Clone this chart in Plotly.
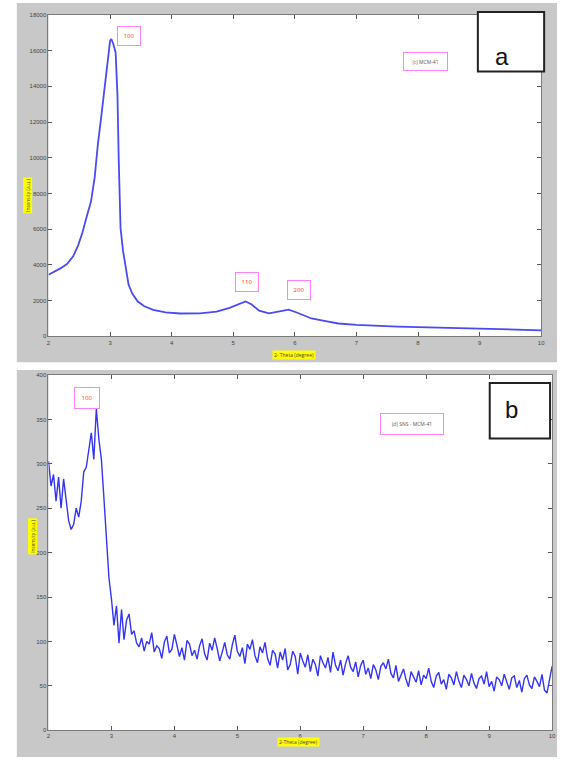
import plotly.graph_objects as go

# ---------------- data ----------------
# Panel a: MCM-41 (smooth XRD pattern)
xa = [2.00, 2.10, 2.20, 2.30, 2.40, 2.48, 2.55, 2.62, 2.69, 2.75, 2.80, 2.86, 2.90, 2.95,
      3.00, 3.02, 3.05, 3.09, 3.12, 3.14, 3.17, 3.21, 3.25, 3.30, 3.36, 3.45, 3.55,
      3.70, 3.90, 4.14, 4.46, 4.73, 4.94, 5.08, 5.20, 5.30, 5.42, 5.58, 5.75, 5.90,
      6.02, 6.15, 6.27, 6.50, 6.71, 7.00, 7.35, 7.67, 8.00, 8.50, 8.96, 9.50, 10.00]
ya = [3450, 3620, 3820, 4050, 4480, 5080, 5800, 6700, 7550, 8900, 10700, 12400, 13600, 15100,
      16550, 16650, 16400, 15900, 13500, 9950, 6050, 4800, 3830, 2900, 2400, 1950, 1700,
      1480, 1340, 1280, 1290, 1390, 1600, 1780, 1950, 1780, 1440, 1290, 1380, 1500,
      1350, 1150, 1000, 850, 720, 640, 570, 545, 520, 480, 440, 400, 340]

# Panel b: SNS - MCM-41 (noisy XRD pattern), 2-theta from 2 to 10 in 0.04 steps
xb = [round(2 + 0.04 * i, 2) for i in range(201)]
yb = [303, 275, 288, 258, 285, 250, 283, 262, 236, 226,
      232, 250, 240, 258, 291, 296, 318, 335, 305, 362,
      328, 305, 262, 212, 172, 148, 118, 140, 98, 136,
      102, 124, 131, 108, 112, 98, 94, 104, 89, 100,
      97, 110, 88, 95, 92, 81, 99, 106, 87, 91,
      108, 96, 83, 93, 79, 101, 97, 84, 90, 80,
      95, 103, 86, 79, 98, 90, 104, 92, 78, 88,
      99, 85, 80, 96, 107, 89, 83, 93, 75, 97,
      91, 102, 84, 76, 94, 87, 99, 81, 73, 90,
      86, 70, 88, 79, 92, 68, 74, 89, 83, 63,
      87, 78, 71, 85, 66, 80, 74, 61, 84, 76,
      70, 82, 65, 88, 73, 67, 79, 62, 75, 84,
      71, 66, 77, 60, 73, 79, 63, 70, 58, 74,
      68, 57, 72, 76, 69, 80, 64, 59, 73, 55,
      63, 69, 57, 49, 66, 60, 54, 67, 51, 62,
      58, 70, 55, 48, 61, 65, 52, 57, 46, 63,
      59, 51, 66, 55, 48, 62, 57, 50, 64, 53,
      47, 58, 61, 52, 66, 49, 55, 44, 60, 57,
      50, 63, 54, 46, 59, 61, 48, 56, 43, 58,
      62, 51, 47, 60, 55, 49, 63, 45, 42, 57,
      72]

xticks = [2, 3, 4, 5, 6, 7, 8, 9, 10]
ya_ticks = [0, 2000, 4000, 6000, 8000, 10000, 12000, 14000, 16000, 18000]
yb_ticks = [0, 50, 100, 150, 200, 250, 300, 350, 400]

peaks_a = [("100", 3.31, 16830), ("110", 5.23, 3030), ("200", 6.06, 2610)]
peaks_b = [("100", 2.61, 374)]

# ---------------- layout geometry ----------------
W, H = 561, 760
def px(x): return x / W
def py(y): return 1 - y / H

fig = go.Figure()
fig.add_trace(go.Scatter(x=xa, y=ya, xaxis="x", yaxis="y", mode="lines",
                         line=dict(color="#4a4af2", width=1.8), showlegend=False))
fig.add_trace(go.Scatter(x=xb, y=yb, xaxis="x2", yaxis="y2", mode="lines",
                         line=dict(color="#3434f4", width=1.4), showlegend=False))

axis_common = dict(showline=True, linecolor="#7a7a7a", linewidth=1, mirror="ticks",
                   ticks="inside", ticklen=4, tickcolor="#555", showgrid=False,
                   zeroline=False, tickformat="d",
                   tickfont=dict(size=6, color="#444", family="Liberation Sans"))

fig.update_layout(
    width=W, height=H, margin=dict(l=0, r=0, t=0, b=0),
    paper_bgcolor="white", plot_bgcolor="rgba(0,0,0,0)",
    xaxis=dict(domain=[px(47), px(545)], range=[2, 10], tickvals=xticks, anchor="y", **axis_common),
    yaxis=dict(domain=[py(336), py(12)], range=[0, 18000], tickvals=ya_ticks, anchor="x", **axis_common),
    xaxis2=dict(domain=[px(47), px(556)], range=[2, 10], tickvals=xticks, anchor="y2", **axis_common),
    yaxis2=dict(domain=[py(733), py(375)], range=[0, 400], tickvals=yb_ticks, anchor="x2", **axis_common),
)

gray = "#c8c8c8"
shapes = [
    dict(type="rect", xref="paper", yref="paper", x0=px(15), x1=1, y0=py(362), y1=1,
         fillcolor=gray, line=dict(width=0), layer="below"),
    dict(type="rect", xref="paper", yref="paper", x0=px(15), x1=1, y0=0, y1=py(370),
         fillcolor=gray, line=dict(width=0), layer="below"),
    dict(type="rect", xref="paper", yref="paper", x0=px(47), x1=px(545), y0=py(336), y1=py(12),
         fillcolor="white", line=dict(width=0), layer="below"),
    dict(type="rect", xref="paper", yref="paper", x0=px(47), x1=px(556), y0=py(733), y1=py(375),
         fillcolor="white", line=dict(width=0), layer="below"),
    dict(type="rect", xref="paper", yref="paper", x0=px(481), x1=px(548), y0=py(69), y1=py(9),
         fillcolor="white", line=dict(color="#222", width=2), layer="above"),
    dict(type="rect", xref="paper", yref="paper", x0=px(493), x1=px(554), y0=py(439), y1=py(383),
         fillcolor="white", line=dict(color="#222", width=2), layer="above"),
]
fig.update_layout(shapes=shapes)

ann = []
pink = "#ff80ff"
for t, x, y in peaks_a:
    ann.append(dict(text=t, x=x, y=y, xref="x", yref="y", showarrow=False,
                    font=dict(size=6, color="#ff3030"), bgcolor="white",
                    bordercolor=pink, borderwidth=1, borderpad=1, width=20, height=16))
for t, x, y in peaks_b:
    ann.append(dict(text=t, x=x, y=y, xref="x2", yref="y2", showarrow=False,
                    font=dict(size=6, color="#ff3030"), bgcolor="white",
                    bordercolor=pink, borderwidth=1, borderpad=1, width=22, height=18))
ann.append(dict(text="(c) MCM-41", x=px(451), y=py(49), xref="paper", yref="paper",
                showarrow=False, font=dict(size=5, color="#555"), bgcolor="white",
                bordercolor=pink, borderwidth=1, borderpad=1, width=41, height=15))
ann.append(dict(text="(d) SNS - MCM-41", x=px(447), y=py(424), xref="paper", yref="paper",
                showarrow=False, font=dict(size=5, color="#555"), bgcolor="white",
                bordercolor=pink, borderwidth=1, borderpad=1, width=60, height=18))
ann.append(dict(text="a", x=px(514.5), y=py(38), xref="paper", yref="paper", showarrow=False,
                font=dict(size=24, color="#111", family="Liberation Sans")))
ann.append(dict(text="b", x=px(523.5), y=py(410), xref="paper", yref="paper", showarrow=False,
                font=dict(size=24, color="#111", family="Liberation Sans")))
ann.append(dict(text="Intensity (a.u.)", x=px(21), y=py(175), xref="paper", yref="paper",
                showarrow=False, textangle=-90, font=dict(size=5, color="#444"),
                bgcolor="#ffff00", borderpad=1))
ann.append(dict(text="2- Theta (degree)", x=px(295), y=py(355), xref="paper", yref="paper",
                showarrow=False, font=dict(size=5, color="#444"), bgcolor="#ffff00", borderpad=1))
ann.append(dict(text="Intensity (a.u.)", x=px(26), y=py(556), xref="paper", yref="paper",
                showarrow=False, textangle=-90, font=dict(size=5, color="#444"),
                bgcolor="#ffff00", borderpad=1))
ann.append(dict(text="2-Theta (degree)", x=px(300), y=py(750), xref="paper", yref="paper",
                showarrow=False, font=dict(size=5, color="#444"), bgcolor="#ffff00", borderpad=1))
fig.update_layout(annotations=ann)

fig.write_html("out.html")
